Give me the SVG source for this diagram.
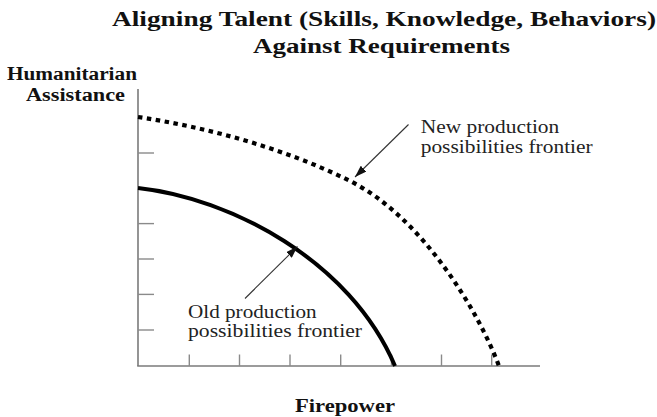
<svg xmlns="http://www.w3.org/2000/svg" width="657" height="417" viewBox="0 0 657 417">
  <style>
    .title { font-family: "Liberation Serif", "Times New Roman", serif; font-weight: bold; font-size: 20px; fill: #111; }
    .axislabel { font-family: "Liberation Serif", "Times New Roman", serif; font-weight: bold; font-size: 18px; fill: #111; }
    .label { font-family: "Liberation Serif", "Times New Roman", serif; font-size: 18.5px; fill: #222; }
    .axis { stroke: #7a7a7a; stroke-width: 1.6; fill: none; }
    .tick { stroke: #8a8a8a; stroke-width: 1.4; fill: none; }
    .old { stroke: #000; stroke-width: 4; fill: none; stroke-linecap: butt; }
    .new { stroke: #000; stroke-width: 4.2; fill: none; stroke-dasharray: 4.5 4.5; }
    .pointer { stroke: #333; stroke-width: 1.1; fill: none; }
  </style>
  <defs>
    <marker id="arrow" markerUnits="userSpaceOnUse" viewBox="0 0 12 8" markerWidth="12" markerHeight="8" refX="12" refY="4" orient="auto">
      <path d="M0,0 L12,4 L0,8 Z" fill="#111"/>
    </marker>
  </defs>

  <g id="title">
    <text class="title" x="112" y="26" textLength="544" lengthAdjust="spacingAndGlyphs">Aligning Talent (Skills, Knowledge, Behaviors)</text>
    <text class="title" x="253" y="52.5" textLength="257" lengthAdjust="spacingAndGlyphs">Against Requirements</text>
  </g>

  <g id="axes">
    <line class="axis" x1="138" y1="89" x2="138" y2="366"/>
    <line class="axis" x1="137.2" y1="366" x2="540" y2="366"/>
    <g id="y-ticks">
      <line class="tick" x1="138" y1="153" x2="154" y2="153"/>
      <line class="tick" x1="138" y1="223.6" x2="154" y2="223.6"/>
      <line class="tick" x1="138" y1="259" x2="154" y2="259"/>
      <line class="tick" x1="138" y1="294.4" x2="154" y2="294.4"/>
      <line class="tick" x1="138" y1="330" x2="154" y2="330"/>
    </g>
    <g id="x-ticks">
      <line class="tick" x1="189.3" y1="366" x2="189.3" y2="354.5"/>
      <line class="tick" x1="239.5" y1="366" x2="239.5" y2="354.5"/>
      <line class="tick" x1="290" y1="366" x2="290" y2="354.5"/>
      <line class="tick" x1="340.7" y1="366" x2="340.7" y2="354.5"/>
      <line class="tick" x1="391.5" y1="366" x2="391.5" y2="354.5"/>
      <line class="tick" x1="441.5" y1="366" x2="441.5" y2="354.5"/>
      <line class="tick" x1="491.7" y1="366" x2="491.7" y2="354.5"/>
    </g>
  </g>

  <g id="y-axis-label">
    <text class="axislabel" x="7" y="79.5" textLength="130" lengthAdjust="spacingAndGlyphs">Humanitarian</text>
    <text class="axislabel" x="26" y="100.5" textLength="99" lengthAdjust="spacingAndGlyphs">Assistance</text>
  </g>
  <g id="x-axis-label">
    <text class="axislabel" x="295" y="411.7" font-size="17" textLength="100" lengthAdjust="spacingAndGlyphs">Firepower</text>
  </g>

  <g id="old-frontier">
    <path class="old" d="M138,188 C230,198 350,260 395,366"/>
  </g>
  <g id="new-frontier">
    <path class="new" d="M138,117 C208,127.5 285,148.5 350,181 C421.5,216.8 478,310 499,366"/>
  </g>

  <g id="new-label">
    <text class="label" x="420.7" y="133.3" textLength="138.6" lengthAdjust="spacingAndGlyphs">New production</text>
    <text class="label" x="420.7" y="153.3" textLength="172" lengthAdjust="spacingAndGlyphs">possibilities frontier</text>
  </g>
  <g id="old-label">
    <text class="label" x="188" y="318.3" textLength="128.7" lengthAdjust="spacingAndGlyphs">Old production</text>
    <text class="label" x="188" y="336.7" textLength="174" lengthAdjust="spacingAndGlyphs">possibilities frontier</text>
  </g>

  <g id="connectors">
    <line class="pointer" x1="408.5" y1="124.5" x2="355" y2="177" marker-end="url(#arrow)"/>
    <line class="pointer" x1="245" y1="298.5" x2="297.5" y2="246.5" marker-end="url(#arrow)"/>
  </g>
</svg>
